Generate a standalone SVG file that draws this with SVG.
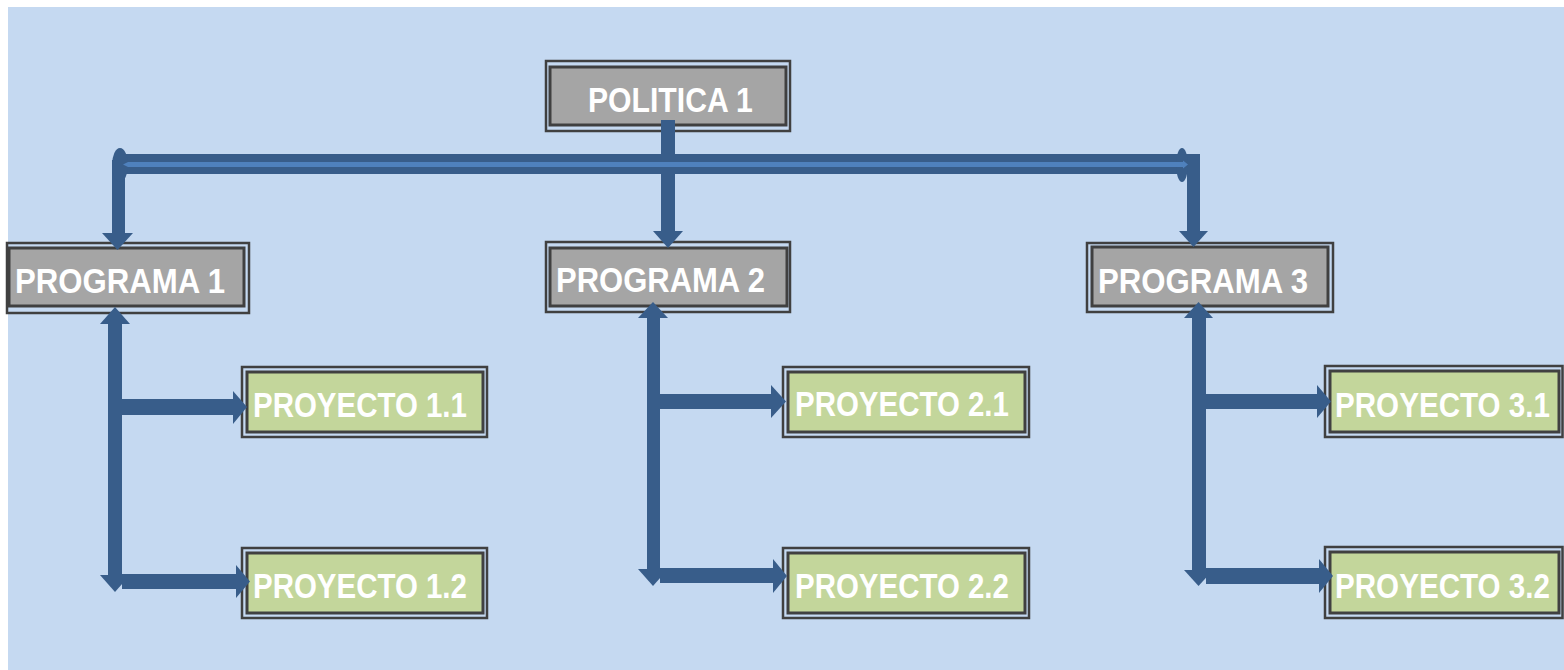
<svg xmlns="http://www.w3.org/2000/svg" width="1564" height="670" viewBox="0 0 1564 670">
<style>
.bg{fill:#c5d9f1}
.outer{fill:none;stroke:#404040;stroke-width:2.5}
.gray{fill:#a5a5a5;stroke:#404040;stroke-width:3}
.green{fill:#c3d69b;stroke:#404040;stroke-width:3}
.lbl{font-family:"Liberation Sans",Arial,sans-serif;font-weight:bold;font-size:35px;fill:#ffffff}
.ar{fill:#385d8a}
.lt{fill:#4f81bd}
</style>
<rect class="bg" x="8" y="7" width="1556" height="663"/>

<g id="politica1">
<rect class="outer" x="546" y="61" width="244" height="70"/>
<rect class="gray" x="550" y="67" width="236" height="58"/>
<text class="lbl" transform="translate(588,112) scale(0.862,1)">POLITICA 1</text>
</g>

<g id="programa1">
<rect class="outer" x="7" y="243" width="242" height="70"/>
<rect class="gray" x="9" y="248" width="235" height="58"/>
<text class="lbl" transform="translate(15,293) scale(0.89,1)">PROGRAMA 1</text>
</g>
<g id="programa2">
<rect class="outer" x="546" y="242" width="244" height="70"/>
<rect class="gray" x="550" y="248" width="237" height="58"/>
<text class="lbl" transform="translate(556,292) scale(0.886,1)">PROGRAMA 2</text>
</g>
<g id="programa3">
<rect class="outer" x="1087" y="243" width="246" height="69"/>
<rect class="gray" x="1092" y="247" width="236" height="59"/>
<text class="lbl" transform="translate(1098,293) scale(0.89,1)">PROGRAMA 3</text>
</g>

<g id="proyecto11">
<rect class="outer" x="242" y="367" width="245" height="70"/>
<rect class="green" x="247" y="372" width="236" height="60"/>
<text class="lbl" transform="translate(253,417) scale(0.842,1)">PROYECTO 1.1</text>
</g>
<g id="proyecto12">
<rect class="outer" x="242" y="548" width="245" height="70"/>
<rect class="green" x="247" y="553" width="236" height="60"/>
<text class="lbl" transform="translate(253,598) scale(0.842,1)">PROYECTO 1.2</text>
</g>
<g id="proyecto21">
<rect class="outer" x="783" y="367" width="246" height="70"/>
<rect class="green" x="788" y="372" width="237" height="60"/>
<text class="lbl" transform="translate(795,416) scale(0.842,1)">PROYECTO 2.1</text>
</g>
<g id="proyecto22">
<rect class="outer" x="783" y="548" width="246" height="70"/>
<rect class="green" x="788" y="553" width="237" height="60"/>
<text class="lbl" transform="translate(795,598) scale(0.842,1)">PROYECTO 2.2</text>
</g>
<g id="proyecto31">
<rect class="outer" x="1325" y="366" width="237.5" height="71"/>
<rect class="green" x="1330" y="371" width="229" height="61"/>
<text class="lbl" transform="translate(1335,417) scale(0.846,1)">PROYECTO 3.1</text>
</g>
<g id="proyecto32">
<rect class="outer" x="1325" y="547" width="237.5" height="71"/>
<rect class="green" x="1330" y="552" width="229" height="61"/>
<text class="lbl" transform="translate(1335,598) scale(0.846,1)">PROYECTO 3.2</text>
</g>

<g id="connectors">
<rect class="ar" x="661" y="120" width="14" height="112"/>
<polygon class="ar" points="653,231 683,231 668,248"/>
<rect class="ar" x="112" y="160" width="13" height="74"/>
<polygon class="ar" points="102,233 133,233 117.5,250"/>
<rect class="ar" x="1187" y="154" width="13" height="78"/>
<polygon class="ar" points="1179,231 1208,231 1193.5,247"/>
<rect class="ar" x="118" y="154" width="1072" height="20"/>
<ellipse class="ar" cx="120" cy="165" rx="8" ry="17"/>
<ellipse class="ar" cx="1182" cy="165" rx="6" ry="17"/>
<polygon class="lt" points="123,164.5 128,162 1183,162 1183,160.5 1188,164.5 1183,168.5 1183,167 128,167"/>

<rect class="ar" x="108" y="323" width="14" height="253"/>
<polygon class="ar" points="100,324 130,324 115,307"/>
<polygon class="ar" points="100,575 130,575 115,592"/>
<rect class="ar" x="122" y="399" width="112" height="16"/>
<polygon class="ar" points="233,391 233,424 247,407"/>
<rect class="ar" x="122" y="574" width="115" height="15"/>
<polygon class="ar" points="236,565 236,598 250,581.5"/>

<rect class="ar" x="647" y="317" width="13" height="253"/>
<polygon class="ar" points="638,318 668,318 653,302"/>
<polygon class="ar" points="638,569 668,569 653,586"/>
<rect class="ar" x="660" y="394" width="112" height="15"/>
<polygon class="ar" points="771,385 771,418 786,401.5"/>
<rect class="ar" x="660" y="568" width="114" height="15"/>
<polygon class="ar" points="773,559 773,593 787,576"/>

<rect class="ar" x="1192" y="317" width="14" height="254"/>
<polygon class="ar" points="1184,318 1213,318 1198.5,302"/>
<polygon class="ar" points="1184,570 1213,570 1198.5,586"/>
<rect class="ar" x="1206" y="394" width="112" height="15"/>
<polygon class="ar" points="1317,385 1317,418 1331,401.5"/>
<rect class="ar" x="1206" y="568" width="114" height="16"/>
<polygon class="ar" points="1319,559 1319,593 1333,576"/>
</g>
</svg>
